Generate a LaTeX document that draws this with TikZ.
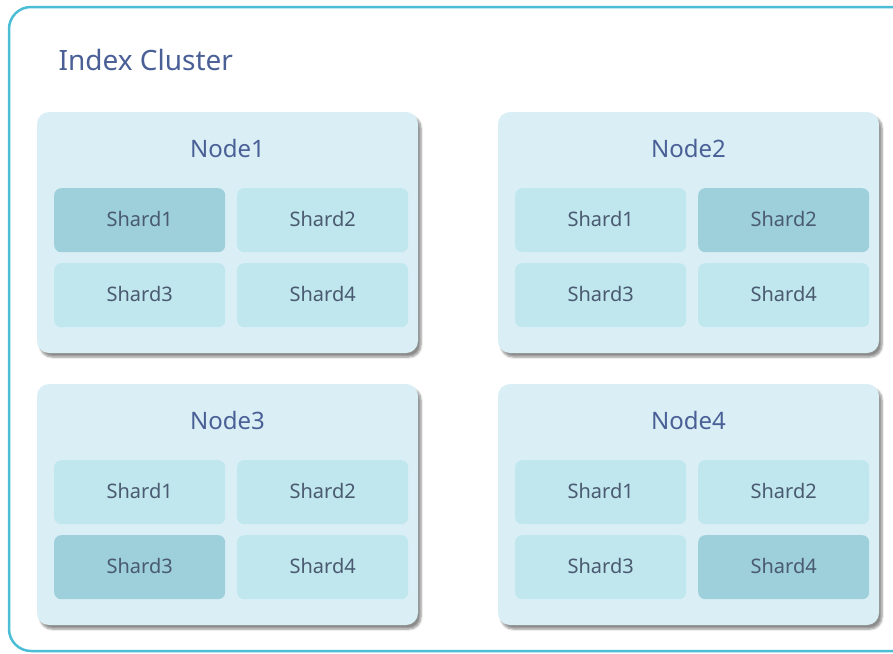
\documentclass[tikz,border=0pt]{standalone}
\usepackage{fontspec}
\setmainfont{Noto Sans}
\usetikzlibrary{shadows.blur}
\definecolor{frame}{HTML}{4BBED6}
\definecolor{nodefill}{HTML}{D9EFF5}
\definecolor{shardlight}{HTML}{C0E6EE}
\definecolor{sharddark}{HTML}{9DD0DB}
\definecolor{titlecol}{HTML}{4A5F96}
\definecolor{shardtext}{HTML}{4A5A70}
\begin{document}
\begin{tikzpicture}[x=1pt,y=-1pt,
  server/.style={fill=nodefill, rounded corners=12pt,
    blur shadow={shadow xshift=3pt, shadow yshift=-4pt, shadow opacity=45, shadow blur steps=6, shadow blur extra rounding=2pt}},
  shardbox/.style={fill=shardlight, rounded corners=7pt, minimum width=171pt, minimum height=64pt,
    inner sep=0pt, text=shardtext, font=\fontsize{20}{24}\selectfont},
  primary/.style={shardbox, fill=sharddark},
  servertitle/.style={text=titlecol, font=\fontsize{24}{28}\selectfont}
]
\useasboundingbox (0,0) rectangle (893,653);
\draw[frame, line width=2.5pt, rounded corners=22pt] (9,7) rectangle (920,651);
\node[anchor=west, text=titlecol, font=\fontsize{28}{33}\selectfont] (cluster) at (55,60) {Index Cluster};

% Node boxes
\foreach \nx/\ny/\nm/\p in {37/112/Node1/1, 498/112/Node2/2, 37/384/Node3/3, 498/384/Node4/4}{
  \fill[server] (\nx,\ny) rectangle ++(381,241);
  \node[servertitle] (title\p) at (\nx+190.5,\ny+36) {\nm};
  \foreach \s/\dx/\dy in {1/17/76, 2/200/76, 3/17/151, 4/200/151}{
    \ifnum\s=\p
      \node[primary, anchor=north west] (n\p s\s) at (\nx+\dx,\ny+\dy) {};
    \else
      \node[shardbox, anchor=north west] (n\p s\s) at (\nx+\dx,\ny+\dy) {};
    \fi
    \node[text=shardtext, font=\fontsize{20}{24}\selectfont] (lbl\p s\s) at ([yshift=1.5pt]n\p s\s.center) {Shard\s};
  }
}
\end{tikzpicture}
\end{document}
